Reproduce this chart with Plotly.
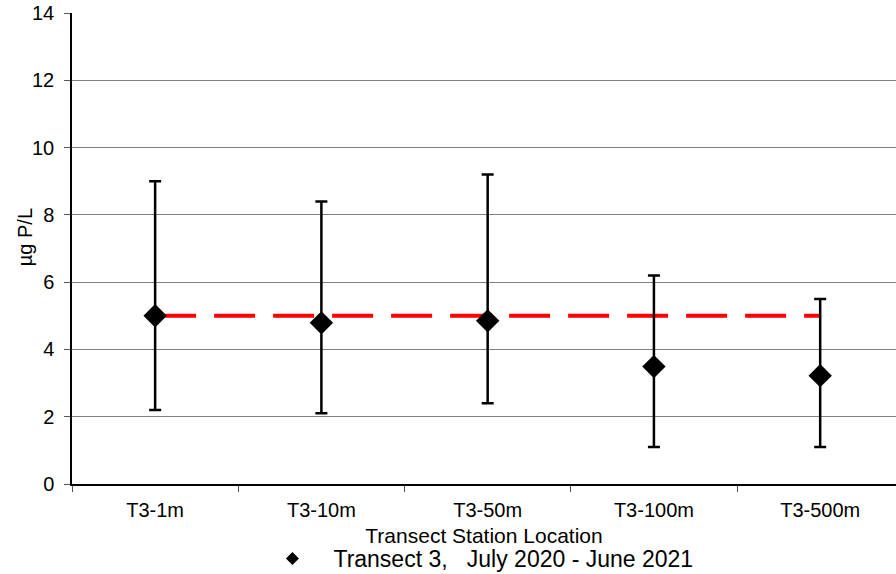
import plotly.graph_objects as go

stations = ["T3-1m", "T3-10m", "T3-50m", "T3-100m", "T3-500m"]
means = [5.0, 4.79, 4.85, 3.49, 3.22]
upper = [9.0, 8.4, 9.2, 6.2, 5.5]
lower = [2.2, 2.1, 2.4, 1.1, 1.1]
ref_value = 5.0
y_ticks = [0, 2, 4, 6, 8, 10, 12, 14]
legend_name = "Transect 3,\u00a0\u00a0\u00a0July 2020 - June 2021"

err_plus = [u - m for u, m in zip(upper, means)]
err_minus = [m - l for m, l in zip(means, lower)]

fig = go.Figure()
fig.add_trace(go.Scatter(
    x=stations, y=[ref_value] * len(stations), mode="lines",
    line=dict(color="#ff0000", width=4, dash="41px,18px"),
    showlegend=False, hoverinfo="skip"))
fig.add_trace(go.Scatter(
    x=stations, y=means, mode="markers",
    marker=dict(symbol="diamond", size=18, color="black"),
    error_y=dict(type="data", symmetric=False, array=err_plus, arrayminus=err_minus,
                 color="black", thickness=2.5, width=6),
    showlegend=False))
fig.add_trace(go.Scatter(
    x=[None], y=[None], mode="markers",
    marker=dict(symbol="diamond", size=10, color="black"),
    name=legend_name, showlegend=True))

fam = "Liberation Sans, Arial, sans-serif"
font = dict(family=fam, size=20, color="black")
fig.update_layout(
    width=896, height=574,
    margin=dict(l=72, r=0, t=13, b=90, autoexpand=False),
    plot_bgcolor="white", paper_bgcolor="white",
    font=font,
    xaxis=dict(
        type="category", range=[-0.5, 4.456], automargin=False,
        showline=True, linecolor="black", linewidth=1.5,
        ticks="outside", tickson="boundaries", ticklen=6, tickcolor="#555",
        showgrid=False, ticklabelstandoff=7,
        title=dict(text="Transect Station Location", standoff=9,
                   font=dict(family=fam, size=21, color="black")),
    ),
    yaxis=dict(
        range=[0, 14], tickvals=y_ticks, automargin=False,
        showline=True, linecolor="black", linewidth=1.5,
        ticks="outside", ticklen=6, tickcolor="#555",
        showgrid=True, gridcolor="#808080", gridwidth=1,
        zeroline=False, ticklabelstandoff=6, ticklabeloverflow="allow",
    ),
    legend=dict(orientation="h", x=0.489, xanchor="center", y=-0.1125, yanchor="top",
                font=dict(family=fam, size=23, color="black"),
                bgcolor="rgba(0,0,0,0)", itemwidth=72),
    showlegend=True,
    annotations=[dict(text="µg P/L", textangle=-90, xref="paper", yref="paper",
                      x=0, xshift=-47, y=0.524, xanchor="center", yanchor="middle",
                      showarrow=False, font=dict(family=fam, size=20, color="black"))],
)
fig.write_html("out.html", config={"displayModeBar": False},
               post_script="document.body.style.margin='0';")
